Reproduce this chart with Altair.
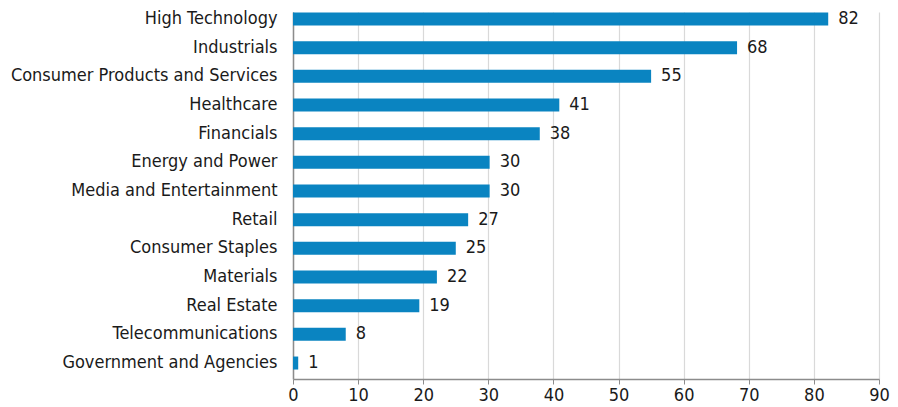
import altair as alt
import pandas as pd

categories = [
    "High Technology", "Industrials", "Consumer Products and Services",
    "Healthcare", "Financials", "Energy and Power", "Media and Entertainment",
    "Retail", "Consumer Staples", "Materials", "Real Estate",
    "Telecommunications", "Government and Agencies",
]
values = [82, 68, 55, 41, 38, 30, 30, 27, 25, 22, 19, 8, 1]
value_labels = ["82", "68", "55", "41", "38", "30", "30", "27", "25", "22", "19", "8", "1"]
# bar lengths as drawn in the picture
bar_values = [82.2, 68.2, 55.0, 40.9, 37.9, 30.2, 30.2, 26.9, 25.0, 22.1, 19.4, 8.1, 0.8]

df = pd.DataFrame({"cat": categories, "bar": bar_values, "val": values, "lab": value_labels})

FONT = "DejaVu Sans Condensed"
BLUE = "#0a84c1"
FS = 18

y = alt.Y("cat:N", sort=categories, title=None,
          scale=alt.Scale(paddingInner=0.547, paddingOuter=0.174, align=0.05),
          axis=alt.Axis(labelFont=FONT, labelFontSize=FS, labelColor="#1a1a1a",
                        labelPadding=16, ticks=False, domainColor="#8c8c8c",
                        domainWidth=1.5, grid=False, labelLimit=400))
x = alt.X("bar:Q", title=None,
          scale=alt.Scale(domain=[0, 90], nice=False, zero=True),
          axis=alt.Axis(values=list(range(0, 91, 10)), labelFont=FONT, labelFontSize=FS,
                        labelColor="#1a1a1a", tickSize=5, tickColor="#8c8c8c",
                        domainColor="#8c8c8c", domainWidth=1.5, gridColor="#d9d9d9",
                        gridWidth=1.2, labelPadding=2, labelFlush=False))

bars = alt.Chart(df).mark_bar(color=BLUE).encode(x=x, y=y)
texts = alt.Chart(df).mark_text(align="left", baseline="middle", dx=10, font=FONT,
                                fontSize=FS, color="#1a1a1a").encode(
    x=alt.X("bar:Q"), y=alt.Y("cat:N", sort=categories), text="lab:N")

chart = (bars + texts).properties(
    width=586, height=367,
    autosize=alt.AutoSizeParams(type="none"),
    padding={"left": 285, "top": 4, "right": 11, "bottom": 28},
).configure_view(stroke=None)

chart.save("out.html", embed_options={"renderer": "svg", "actions": False})
